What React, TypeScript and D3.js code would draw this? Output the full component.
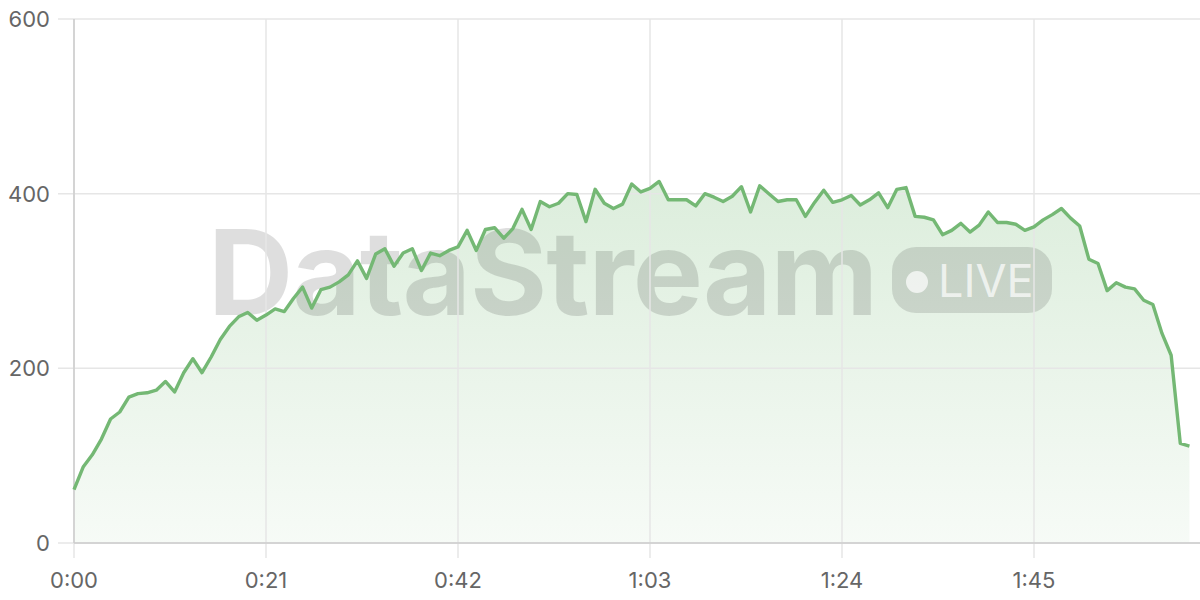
import React from "react";
import * as d3 from "d3";

const seconds: number[] = Array.from({ length: 123 }, (_, i) => i);
const values: number[] = [
  61, 87, 101, 119, 142, 150, 167, 171, 172, 175,
  185, 173, 195, 211, 195, 213, 233, 248, 259, 264,
  255, 261, 268, 265, 280, 293, 269, 290, 293, 299,
  307, 323, 303, 331, 337, 317, 332, 337, 312, 332,
  329, 335, 339, 358, 335, 359, 361, 349, 360, 382,
  359, 391, 385, 389, 400, 399, 368, 405, 389, 383,
  388, 411, 402, 406, 414, 393, 393, 393, 386, 400,
  396, 391, 397, 408, 379, 409, 400, 391, 393, 393,
  374, 390, 404, 390, 393, 398, 387, 393, 401, 384,
  405, 407, 374, 373, 370, 353, 358, 366, 356, 364,
  379, 367, 367, 365, 358, 362, 370, 376, 383, 372,
  363, 325, 320, 289, 298, 293, 291, 278, 273, 240,
  215, 114, 111,
];
const yTicks: number[] = [0, 200, 400, 600];
const xTicks: number[] = [0, 21, 42, 63, 84, 105];

const fmt = (s: number) => `${Math.floor(s / 60)}:${String(s % 60).padStart(2, "0")}`;

export default function App() {
  const W = 1200;
  const H = 600;
  const left = 74;
  const top = 19;
  const bottom = 543;
  const pxPerSec = 192 / 21;
  const x = d3.scaleLinear().domain([0, 122]).range([left, left + 122 * pxPerSec]);
  const y = d3.scaleLinear().domain([0, 600]).range([bottom, top]);
  const data = seconds.map((s, i) => ({ s, v: values[i] }));
  const line = d3.line<{ s: number; v: number }>().x((d) => x(d.s)).y((d) => y(d.v));
  const area = d3
    .area<{ s: number; v: number }>()
    .x((d) => x(d.s))
    .y0(y(0))
    .y1((d) => y(d.v));
  const font = "Inter, 'Liberation Sans', Arial, sans-serif";

  return (
    <div style={{ position: "fixed", left: 0, top: 0, width: W, height: H, background: "#fff" }}>
      <svg width={W} height={H} style={{ display: "block" }}>
        <defs>
          <linearGradient id="ag" gradientUnits="userSpaceOnUse" x1={0} y1={y(420)} x2={0} y2={bottom}>
            <stop offset="0%" stopColor="#72b872" stopOpacity={0.25} />
            <stop offset="100%" stopColor="#72b872" stopOpacity={0.06} />
          </linearGradient>
        </defs>
        <path d={area(data) || ""} fill="url(#ag)" />
        {/* watermark */}
        <g fontFamily={font} pointerEvents="none">
          <text x={208} y={315} fontSize={118} fontWeight={700} fill="#000" fillOpacity={0.13} letterSpacing={-1}>
            DataStream
          </text>
          <rect x={892} y={247} width={160} height={66} rx={24} fill="#000" fillOpacity={0.12} />
          <circle cx={917} cy={282} r={11} fill="#fff" fillOpacity={0.7} />
          <text x={938} y={297} fontSize={45} fill="#fff" fillOpacity={0.7}>
            LIVE
          </text>
        </g>
        {/* grid */}
        {yTicks.map((t) => (
          <line key={"gy" + t} x1={left - 16} x2={W} y1={y(t)} y2={y(t)} stroke="#e6e6e6" strokeWidth={1.5} />
        ))}
        {xTicks.map((t) => (
          <line key={"gx" + t} x1={x(t)} x2={x(t)} y1={top} y2={bottom + 15} stroke="#e6e6e6" strokeWidth={1.5} />
        ))}
        <line x1={left} x2={left} y1={top} y2={bottom} stroke="#cccccc" strokeWidth={1.5} />
        <line x1={left} x2={W} y1={bottom} y2={bottom} stroke="#cccccc" strokeWidth={1.5} />
        {yTicks.map((t) => (
          <text key={"ly" + t} x={50} y={y(t)} dy="0.36em" textAnchor="end" fontFamily={font} fontSize={22} fill="#666">
            {t}
          </text>
        ))}
        {xTicks.map((t) => (
          <text key={"lx" + t} x={x(t)} y={580} dy="0.36em" textAnchor="middle" fontFamily={font} fontSize={22} fill="#666">
            {fmt(t)}
          </text>
        ))}
        <path d={line(data) || ""} fill="none" stroke="#74b874" strokeWidth={3.4} strokeLinejoin="round" />
      </svg>
    </div>
  );
}
